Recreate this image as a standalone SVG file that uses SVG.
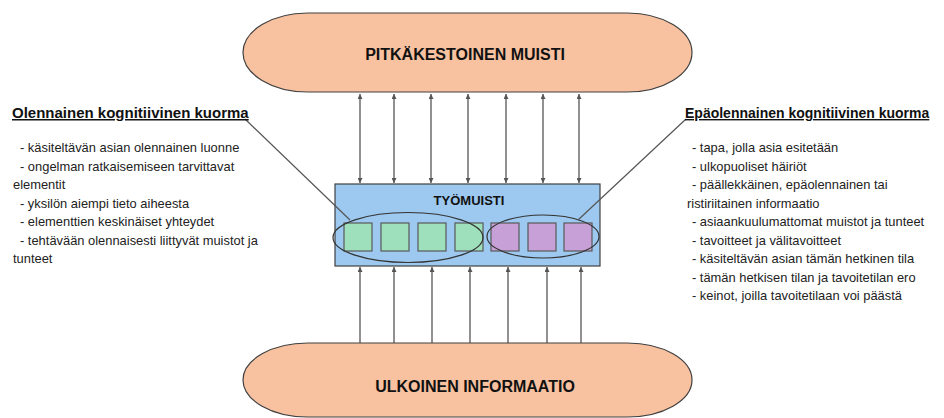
<svg xmlns="http://www.w3.org/2000/svg" width="944" height="418" viewBox="0 0 944 418">
<style>
.pill{fill:#F8C1A0;stroke:#404040;stroke-width:1.2}
.big{font-family:"Liberation Sans",Arial,sans-serif;font-weight:bold;font-size:16px;fill:#111;text-anchor:middle}
.box{fill:#9DC8EF;stroke:#404040;stroke-width:1.2}
.g{fill:#9FE0BC;stroke:#595959;stroke-width:1.2}
.p{fill:#C8A0D8;stroke:#595959;stroke-width:1.2}
.ell{fill:none;stroke:#333;stroke-width:1.2}
.arr{stroke:#555;stroke-width:1.3;fill:none}
.ptr{stroke:#555;stroke-width:1.2;fill:none}
.h{font-family:"Liberation Sans",Arial,sans-serif;font-weight:bold;font-size:15px;fill:#111;text-decoration:underline}
.t{font-family:"Liberation Sans",Arial,sans-serif;font-size:12.9px;fill:#222}
</style>
<defs>
<marker id="ah" viewBox="0 0 10 10" refX="10" refY="5" markerWidth="5" markerHeight="5" orient="auto-start-reverse" markerUnits="userSpaceOnUse">
<path d="M0,0 L10,5 L0,10 z" fill="#555"/>
</marker>
</defs>
<g id="connectors">
<g class="arr">
<line x1="360" y1="94" x2="360" y2="183" marker-start="url(#ah)" marker-end="url(#ah)"/>
<line x1="394" y1="94" x2="394" y2="183" marker-start="url(#ah)" marker-end="url(#ah)"/>
<line x1="431" y1="94" x2="431" y2="183" marker-start="url(#ah)" marker-end="url(#ah)"/>
<line x1="468" y1="94" x2="468" y2="183" marker-start="url(#ah)" marker-end="url(#ah)"/>
<line x1="506" y1="94" x2="506" y2="183" marker-start="url(#ah)" marker-end="url(#ah)"/>
<line x1="543" y1="94" x2="543" y2="183" marker-start="url(#ah)" marker-end="url(#ah)"/>
<line x1="579" y1="94" x2="579" y2="183" marker-start="url(#ah)" marker-end="url(#ah)"/>
<line x1="360" y1="343" x2="360" y2="267" marker-end="url(#ah)"/>
<line x1="394" y1="343" x2="394" y2="267" marker-end="url(#ah)"/>
<line x1="432" y1="343" x2="432" y2="267" marker-end="url(#ah)"/>
<line x1="470" y1="343" x2="470" y2="267" marker-end="url(#ah)"/>
<line x1="508" y1="343" x2="508" y2="267" marker-end="url(#ah)"/>
<line x1="547" y1="343" x2="547" y2="267" marker-end="url(#ah)"/>
<line x1="581" y1="343" x2="581" y2="267" marker-end="url(#ah)"/>
</g>
</g>
<g id="pitkakestoinen">
<rect class="pill" x="243" y="13" width="449" height="79" rx="65" ry="39.5"/>
<text class="big" x="465" y="60">PITKÄKESTOINEN MUISTI</text>
</g>
<g id="ulkoinen">
<rect class="pill" x="243" y="343" width="449" height="74" rx="65" ry="37"/>
<text class="big" x="475" y="392">ULKOINEN INFORMAATIO</text>
</g>
<g id="tyomuisti">
<rect class="box" x="335" y="184" width="265" height="82"/>
<text class="big" x="469" y="205" style="font-size:13px">TYÖMUISTI</text>
<rect class="g" x="344" y="223" width="28" height="28"/>
<rect class="g" x="381" y="223" width="28" height="28"/>
<rect class="g" x="418" y="223" width="28" height="28"/>
<rect class="g" x="455" y="223" width="28" height="28"/>
<rect class="p" x="491" y="223" width="28" height="28"/>
<rect class="p" x="528" y="223" width="28" height="28"/>
<rect class="p" x="564" y="223" width="28" height="28"/>
<ellipse class="ell" cx="408" cy="237.5" rx="75" ry="25"/>
<ellipse class="ell" cx="543" cy="236.5" rx="56" ry="21.5"/>
</g>
<g id="olennainen">
<line class="ptr" x1="245" y1="119" x2="350" y2="220"/>
<text class="h" x="12" y="118">Olennainen kognitiivinen kuorma</text>
<text class="t" x="20" y="152">- käsiteltävän asian olennainen luonne</text>
<text class="t" x="20" y="170.5">- ongelman ratkaisemiseen tarvittavat</text>
<text class="t" x="13" y="189">elementit</text>
<text class="t" x="20" y="207.5">- yksilön aiempi tieto aiheesta</text>
<text class="t" x="20" y="226">- elementtien keskinäiset yhteydet</text>
<text class="t" x="20" y="244.5">- tehtävään olennaisesti liittyvät muistot ja</text>
<text class="t" x="13" y="263">tunteet</text>
</g>
<g id="epaolennainen">
<line class="ptr" x1="686" y1="119" x2="578" y2="220"/>
<text class="h" x="685" y="118" style="font-size:14px">Epäolennainen kognitiivinen kuorma</text>
<text class="t" x="692" y="152">- tapa, jolla asia esitetään</text>
<text class="t" x="692" y="170.5">- ulkopuoliset häiriöt</text>
<text class="t" x="692" y="189">- päällekkäinen, epäolennainen tai</text>
<text class="t" x="687" y="207.5">ristiriitainen informaatio</text>
<text class="t" x="692" y="226">- asiaankuulumattomat muistot ja tunteet</text>
<text class="t" x="692" y="244.5">- tavoitteet ja välitavoitteet</text>
<text class="t" x="692" y="263">- käsiteltävän asian tämän hetkinen tila</text>
<text class="t" x="692" y="281.5">- tämän hetkisen tilan ja tavoitetilan ero</text>
<text class="t" x="692" y="300">- keinot, joilla tavoitetilaan voi päästä</text>
</g>
</svg>
